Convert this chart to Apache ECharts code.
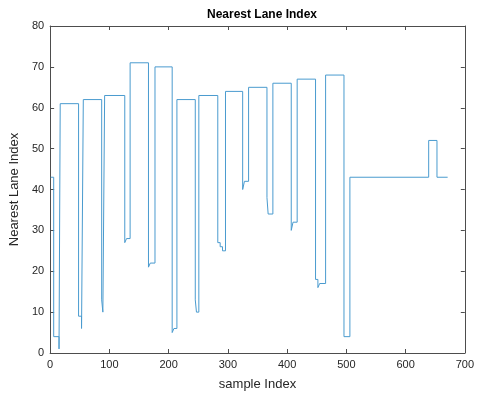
<!DOCTYPE html>
<html>
<head>
<meta charset="utf-8">
<script src="https://cdn.jsdelivr.net/npm/echarts@6/dist/echarts.min.js"></script>
<style>
  html, body { margin: 0; padding: 0; background: #fff; }
  #chart { width: 477px; height: 398px; }
</style>
</head>
<body>
<div id="chart"></div>
<script>
// Sample index at which the nearest lane changes, and the lane held from there on
const changeIndex = [1, 6, 15, 17, 48, 53, 56, 87, 89, 92, 126, 129, 135, 166, 169, 177,
  206, 209, 214, 245, 247, 251, 283, 287, 291, 296, 325, 328, 335, 366, 368, 376,
  407, 410, 417, 448, 452, 455, 465, 496, 506, 639, 653, 671];
const laneValue = [43, 4, 1, 61, 9, 6, 62, 13, 10, 63, 27, 28, 71, 21, 22, 70,
  5, 6, 62, 13, 10, 63, 27, 26, 25, 64, 40, 42, 65, 38, 34, 66,
  30, 32, 67, 18, 16, 17, 68, 4, 43, 52, 43, 43];
const xTicks = [0, 100, 200, 300, 400, 500, 600, 700];
const yTicks = [0, 10, 20, 30, 40, 50, 60, 70, 80];

// Staircase vertices: each change point repeats the previous lane, then jumps
const points = [];
changeIndex.forEach((x, i) => {
  if (i > 0) points.push([x, laneValue[i - 1]]);
  points.push([x, laneValue[i]]);
});

const font = 'Liberation Sans, Arial, sans-serif';
const axisColor = '#262626';

function boxAxis(extra) {
  return Object.assign({
    type: 'value',
    axisLine: { show: true, onZero: false, lineStyle: { color: '#4d4d4d', width: 1 } },
    axisTick: { show: true, inside: true, length: 4, lineStyle: { color: '#4d4d4d' } },
    splitLine: { show: false },
  }, extra);
}

const chart = echarts.init(document.getElementById('chart'));
chart.setOption({
  animation: false,
  backgroundColor: '#fff',
  title: {
    text: 'Nearest Lane Index',
    left: 257, top: 4, textAlign: 'center',
    textStyle: { fontFamily: font, fontSize: 12, fontWeight: 'bold', color: '#000' }
  },
  grid: { left: 49, right: 11, top: 26, bottom: 45 },
  xAxis: [
    boxAxis({
      min: xTicks[0], max: xTicks[xTicks.length - 1], interval: 100, position: 'bottom',
      name: 'sample Index', nameLocation: 'middle', nameGap: 25,
      nameTextStyle: { fontFamily: font, fontSize: 13, color: axisColor },
      axisLabel: { fontFamily: font, fontSize: 11, color: axisColor, margin: 6 }
    }),
    boxAxis({
      min: xTicks[0], max: xTicks[xTicks.length - 1], interval: 100, position: 'top',
      axisLabel: { show: false }
    })
  ],
  yAxis: [
    boxAxis({
      min: yTicks[0], max: yTicks[yTicks.length - 1], interval: 10, position: 'left',
      name: 'Nearest Lane Index', nameLocation: 'middle', nameGap: 23,
      nameTextStyle: { fontFamily: font, fontSize: 13, color: axisColor },
      axisLabel: { fontFamily: font, fontSize: 11, color: axisColor, margin: 6 }
    }),
    boxAxis({
      min: yTicks[0], max: yTicks[yTicks.length - 1], interval: 10, position: 'right',
      axisLabel: { show: false }
    })
  ],
  series: [{
    type: 'line',
    data: points,
    showSymbol: false,
    lineStyle: { color: '#4a9bcf', width: 1 },
    xAxisIndex: 0, yAxisIndex: 0
  }]
});
</script>
</body>
</html>
